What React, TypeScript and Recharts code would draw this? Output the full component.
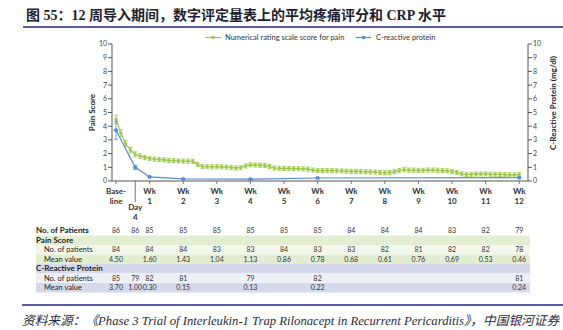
import React from 'react';
import { LineChart, Line, XAxis, YAxis, ErrorBar } from 'recharts';

const GREEN = '#9cc84a';
const BLUE = '#5b8bd5';
const AXIS = '#555';
const PURPLE = '#5b5ba3';
const SANS = 'Lato, "Open Sans", sans-serif';

// NRS pain score, daily means from baseline (day 0) to week 12 (day 84)
const painMean = [
  4.5, 3.5, 2.75, 2.25, 1.95, 1.82, 1.72, 1.65, 1.6, 1.57, 1.54, 1.5, 1.48, 1.46,
  1.44, 1.45, 1.43, 1.2, 1.05, 1.04, 1.03, 1.04, 1.03, 1.02, 0.98, 0.95, 0.97, 1.1,
  1.18, 1.17, 1.15, 1.14, 1.05, 0.95, 0.93, 0.92, 0.92, 0.9, 0.9, 0.88, 0.86, 0.8,
  0.75, 0.76, 0.76, 0.75, 0.74, 0.73, 0.72, 0.7, 0.7, 0.68, 0.67, 0.66, 0.65, 0.62,
  0.6, 0.62, 0.68, 0.76, 0.82, 0.8, 0.79, 0.78, 0.78, 0.8, 0.8, 0.78, 0.76, 0.74,
  0.7, 0.62, 0.52, 0.48, 0.49, 0.51, 0.52, 0.52, 0.5, 0.49, 0.48, 0.46, 0.45, 0.44,
  0.46,
];
const painErr = [
  0.3, 0.25, 0.22, 0.2, 0.18, 0.17, 0.16, 0.15, 0.15, 0.15, 0.15, 0.15, 0.15, 0.15,
  0.15, 0.15, 0.15, 0.15, 0.15, 0.15, 0.15, 0.15, 0.15, 0.15, 0.15, 0.15, 0.15, 0.15,
  0.15, 0.15, 0.15, 0.15, 0.15, 0.15, 0.15, 0.15, 0.15, 0.15, 0.15, 0.15, 0.15, 0.15,
  0.15, 0.15, 0.15, 0.15, 0.15, 0.15, 0.15, 0.15, 0.15, 0.15, 0.15, 0.15, 0.15, 0.15,
  0.15, 0.15, 0.15, 0.15, 0.15, 0.15, 0.15, 0.15, 0.15, 0.15, 0.15, 0.15, 0.15, 0.15,
  0.15, 0.15, 0.15, 0.15, 0.15, 0.15, 0.15, 0.15, 0.15, 0.15, 0.15, 0.15, 0.15, 0.15,
  0.15,
];

// C-reactive protein (mg/dl)
const crpWeeks = [0, 4 / 7, 1, 2, 4, 6, 12];
const crpMean = [3.7, 1.0, 0.3, 0.15, 0.13, 0.22, 0.24];
const crpErr = [0.65, 0.15, 0.05, 0.03, 0.03, 0.04, 0.04];

const weekTicks = [0, 4 / 7, 1, 2, 3, 4, 5, 6, 7, 8, 9, 10, 11, 12];
const yTicks = [0, 1, 2, 3, 4, 5, 6, 7, 8, 9, 10];

// table under the chart, one column per x tick
const allPatients = ['86', '86', '85', '85', '85', '85', '85', '85', '84', '84', '84', '83', '82', '79'];
const painPatients = ['84', '', '84', '84', '83', '83', '84', '83', '83', '82', '81', '82', '82', '78'];
const painValues = ['4.50', '', '1.60', '1.43', '1.04', '1.13', '0.86', '0.78', '0.68', '0.61', '0.76', '0.69', '0.53', '0.46'];
const crpPatients = ['85', '79', '82', '81', '', '79', '', '82', '', '', '', '', '', '81'];
const crpValues = ['3.70', '1.00', '0.30', '0.15', '', '0.13', '', '0.22', '', '', '', '', '', '0.24'];

const painData = painMean.map((v, i) => ({ week: i / 7, pain: v, err: painErr[i] }));
const crpData = crpWeeks.map((w, i) => ({ week: w, crp: crpMean[i], err: crpErr[i] }));

const CHART_W = 563;
const CHART_H = 225;
const PLOT_LEFT = 112;
const PLOT_RIGHT = 528;
const X_MIN = -0.12;
const X_MAX = 12.26;
const xPos = (w: number) => PLOT_LEFT + ((w - X_MIN) / (X_MAX - X_MIN)) * (PLOT_RIGHT - PLOT_LEFT);

function WeekTick(props: any) {
  const { x, y, payload } = props;
  const v = payload.value as number;
  const isDay4 = Math.abs(v - 4 / 7) < 1e-6;
  const lines = v === 0 ? ['Base-', 'line'] : isDay4 ? ['Day', '4'] : ['Wk', String(v)];
  const dy = isDay4 ? 29 : 12.5;
  return (
    <g>
      <line x1={x} x2={x} y1={y} y2={y + (isDay4 ? 21 : 3)} stroke={AXIS} strokeWidth={0.8} />
      <text x={x} y={y + dy} textAnchor="middle" fontSize={8} fontWeight={700} fill="#333" fontFamily={SANS}>
        <tspan x={x}>{lines[0]}</tspan>
        <tspan x={x} dy={10}>{lines[1]}</tspan>
      </text>
    </g>
  );
}

const rows = [
  { label: 'No. of Patients', bold: true, indent: 0, bg: '#ffffff', values: allPatients, h: 10 },
  { label: 'Pain Score', bold: true, indent: 0, bg: '#e3edd2', values: null, h: 9.5 },
  { label: 'No. of patients', bold: false, indent: 8, bg: '#f3f7eb', values: painPatients, h: 9.5 },
  { label: 'Mean value', bold: false, indent: 8, bg: '#e3edd2', values: painValues, h: 9.5 },
  { label: 'C-Reactive Protein', bold: true, indent: 0, bg: '#d5d9eb', values: null, h: 9.5 },
  { label: 'No. of patients', bold: false, indent: 8, bg: '#eef0f7', values: crpPatients, h: 9.5 },
  { label: 'Mean value', bold: false, indent: 8, bg: '#d5d9eb', values: crpValues, h: 9.5 },
];

function Overlay() {
  let top = 225.5;
  const tableRows = rows.map((r, ri) => {
    const y0 = top;
    top += r.h;
    const cy = y0 + r.h / 2 + 2.6;
    return (
      <g key={ri}>
        <rect x={36} y={y0} width={494} height={r.h} fill={r.bg} />
        <text x={36 + r.indent} y={cy} fontSize={r.bold ? 8 : 7.5} fontWeight={r.bold ? 700 : 400} fill="#222" fontFamily={SANS}>
          {r.label}
        </text>
        {r.values &&
          r.values.map((v, i) => (
            <text key={i} x={xPos(weekTicks[i])} y={cy} textAnchor="middle" fontSize={7} fill="#333" fontFamily={SANS}>
              {v}
            </text>
          ))}
      </g>
    );
  });

  return (
    <svg width={563} height={330} style={{ position: 'absolute', left: 0, top: 0, pointerEvents: 'none' }}>
      {/* legend */}
      <line x1={205} x2={221} y1={37.5} y2={37.5} stroke={GREEN} strokeWidth={1.2} />
      <circle cx={213} cy={37.5} r={1.8} fill={GREEN} />
      <text x={225} y={40} fontSize={7.5} fill="#333" fontFamily={SANS}>Numerical rating scale score for pain</text>
      <line x1={356} x2={371} y1={37.5} y2={37.5} stroke={BLUE} strokeWidth={1.2} />
      <circle cx={363.5} cy={37.5} r={1.8} fill={BLUE} />
      <text x={376} y={40} fontSize={7.5} fill="#333" fontFamily={SANS}>C-reactive protein</text>
      {/* axis titles */}
      <text transform="translate(95,112.5) rotate(-90)" textAnchor="middle" fontSize={8} fontWeight={700} fill="#222" fontFamily={SANS}>
        Pain Score
      </text>
      <text transform="translate(556,103) rotate(-90)" textAnchor="middle" fontSize={8} fontWeight={700} fill="#222" fontFamily={SANS}>
        C-Reactive Protein (mg/dl)
      </text>
      {tableRows}
    </svg>
  );
}

export default function App() {
  return (
    <div style={{ position: 'absolute', left: 0, top: 0, width: 563, height: 330, background: '#fff', overflow: 'hidden' }}>
      <div
        style={{
          position: 'absolute',
          left: 26,
          top: 4,
          fontFamily: '"Liberation Serif", "Noto Sans CJK SC", serif',
          fontWeight: 700,
          fontSize: 14,
          color: '#1e1e2e',
          whiteSpace: 'nowrap',
        }}
      >
        图 55：12 周导入期间，数字评定量表上的平均疼痛评分和 CRP 水平
      </div>
      <div style={{ position: 'absolute', left: 23, top: 26, width: 540, height: 2, background: PURPLE }} />
      <div style={{ position: 'absolute', left: 0, top: 0 }}>
        <LineChart width={CHART_W} height={CHART_H} margin={{ top: 44, right: 5, bottom: 4, left: 82 }}>
          <XAxis
            dataKey="week"
            type="number"
            domain={[X_MIN, X_MAX]}
            ticks={weekTicks}
            interval={0}
            tickSize={0}
            tickMargin={0}
            tick={<WeekTick />}
            height={40}
            stroke={AXIS}
            allowDataOverflow
          />
          <YAxis
            yAxisId="left"
            domain={[0, 10]}
            ticks={yTicks}
            interval={0}
            width={30}
            tickSize={4}
            tickMargin={1}
            tick={{ fontSize: 7, fill: '#444', fontFamily: SANS }}
            stroke={AXIS}
          />
          <YAxis
            yAxisId="right"
            orientation="right"
            domain={[0, 10]}
            ticks={yTicks}
            interval={0}
            width={30}
            tickSize={4}
            tickMargin={1}
            tick={{ fontSize: 7, fill: '#444', fontFamily: SANS }}
            stroke={AXIS}
          />
          <Line
            yAxisId="left"
            data={painData}
            dataKey="pain"
            type="linear"
            stroke={GREEN}
            strokeWidth={1.2}
            dot={{ r: 1.4, fill: GREEN, stroke: GREEN, strokeWidth: 0.5 }}
            activeDot={false}
            isAnimationActive={false}
          >
            <ErrorBar dataKey="err" width={2} stroke={GREEN} strokeWidth={0.8} direction="y" />
          </Line>
          <Line
            yAxisId="right"
            data={crpData}
            dataKey="crp"
            type="linear"
            stroke={BLUE}
            strokeWidth={1.2}
            dot={{ r: 1.8, fill: BLUE, stroke: BLUE, strokeWidth: 0.5 }}
            activeDot={false}
            isAnimationActive={false}
          >
            <ErrorBar dataKey="err" width={2} stroke={BLUE} strokeWidth={0.8} direction="y" />
          </Line>
        </LineChart>
      </div>
      <Overlay />
      <div style={{ position: 'absolute', left: 22, top: 304, width: 541, height: 1.5, background: PURPLE }} />
      <div
        style={{
          position: 'absolute',
          left: 22,
          top: 310,
          fontFamily: '"Liberation Serif", "Noto Sans CJK SC", serif',
          fontStyle: 'italic',
          fontSize: 12.7,
          color: '#2a2a3a',
          whiteSpace: 'nowrap',
        }}
      >
        资料来源：《Phase 3 Trial of Interleukin-1 Trap Rilonacept in Recurrent Pericarditis》，中国银河证券
      </div>
    </div>
  );
}
